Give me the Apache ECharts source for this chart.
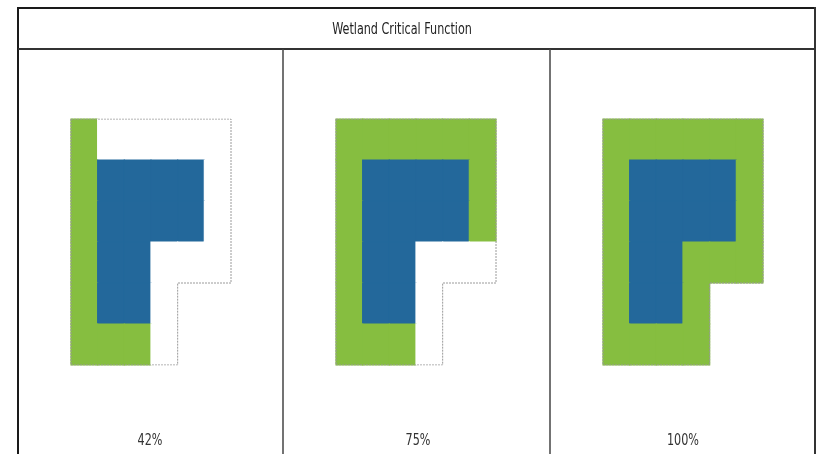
<!DOCTYPE html>
<html>
<head>
<meta charset="utf-8">
<title>Wetland Critical Function</title>
<script src="https://cdn.jsdelivr.net/npm/echarts@6/dist/echarts.min.js"></script>
<style>
  html, body { margin: 0; padding: 0; background: #fff; }
  #chart { width: 821px; height: 454px; }
</style>
</head>
<body>
<div id="chart"></div>
<script>
// W = wetland, B = functioning buffer, M = missing buffer, . = outside
const chartTitle = 'Wetland Critical Function';
const panelLabels = ['42%', '75%', '100%'];
const panel1Cells = [
  'BMMMMM',
  'BWWWWM',
  'BWWWWM',
  'BWWMMM',
  'BWWM..',
  'BBBM..'
];
const panel2Cells = [
  'BBBBBB',
  'BWWWWB',
  'BWWWWB',
  'BWWMMM',
  'BWWM..',
  'BBBM..'
];
const panel3Cells = [
  'BBBBBB',
  'BWWWWB',
  'BWWWWB',
  'BWWBBB',
  'BWWB..',
  'BBBB..'
];
// outline of the parcel, in cell units
const footprintOutline = [[0, 0], [6, 0], [6, 4], [4, 4], [4, 6], [0, 6], [0, 0]];

const kindColors = {W: '#23689b', B: '#86be40', M: '#ffffff'};
const panels = [panel1Cells, panel2Cells, panel3Cells];
const gridLeft = [71, 336, 603];
const labelX = [150, 418, 683];
const font = "'Liberation Sans Narrow', 'DejaVu Sans Condensed', sans-serif";

function toCells(rows) {
  let cells = [];
  rows.forEach((row, r) => {
    row.split('').forEach((k, c) => {
      if (k !== '.') cells.push([c, r, k]);
    });
  });
  return cells;
}

const chart = echarts.init(document.getElementById('chart'));

let grids = [], xAxes = [], yAxes = [], series = [];
panels.forEach((rows, i) => {
  grids.push({left: gridLeft[i], top: 119, width: 160, height: 246});
  xAxes.push({type: 'value', gridIndex: i, min: 0, max: 6, show: false});
  yAxes.push({type: 'value', gridIndex: i, min: 0, max: 6, inverse: true, show: false});
  series.push({
    type: 'custom',
    xAxisIndex: i,
    yAxisIndex: i,
    data: toCells(rows),
    renderItem: (params, api) => {
      const c = api.value(0), r = api.value(1);
      const kind = rows[r][c];
      const p0 = api.coord([c, r]);
      const p1 = api.coord([c + 1, r + 1]);
      const col = kindColors[kind];
      return {
        type: 'rect',
        shape: {x: p0[0], y: p0[1], width: p1[0] - p0[0], height: p1[1] - p0[1]},
        style: {fill: col, stroke: col, lineWidth: 1.2}
      };
    },
    silent: true
  });
  series.push({
    type: 'line',
    xAxisIndex: i,
    yAxisIndex: i,
    data: footprintOutline,
    symbol: 'none',
    z: 5,
    silent: true,
    lineStyle: {color: '#9a9a9a', width: 1, type: [2, 1]}
  });
});

const frame = '#1a1a1a';
const graphic = [
  {type: 'line', shape: {x1: 18, y1: 8, x2: 816, y2: 8}, style: {stroke: frame, lineWidth: 2}},
  {type: 'line', shape: {x1: 18, y1: 7, x2: 18, y2: 454}, style: {stroke: frame, lineWidth: 2}},
  {type: 'line', shape: {x1: 815, y1: 7, x2: 815, y2: 454}, style: {stroke: '#333', lineWidth: 2}},
  {type: 'line', shape: {x1: 18, y1: 49, x2: 816, y2: 49}, style: {stroke: '#333', lineWidth: 2}},
  {type: 'line', shape: {x1: 283, y1: 49, x2: 283, y2: 454}, style: {stroke: '#444', lineWidth: 1.5}},
  {type: 'line', shape: {x1: 550, y1: 49, x2: 550, y2: 454}, style: {stroke: '#444', lineWidth: 1.5}},
  {type: 'text', x: 402, y: 30, scaleX: 0.83, style: {text: chartTitle, font: '15px ' + font, fill: '#222', align: 'center', verticalAlign: 'middle'}}
];
panelLabels.forEach((label, i) => {
  graphic.push({type: 'text', x: labelX[i], y: 441, scaleX: 0.83, style: {text: label, font: '15px ' + font, fill: '#333', align: 'center', verticalAlign: 'middle'}});
});

chart.setOption({
  animation: false,
  grid: grids,
  xAxis: xAxes,
  yAxis: yAxes,
  series: series,
  graphic: graphic
});
</script>
</body>
</html>
